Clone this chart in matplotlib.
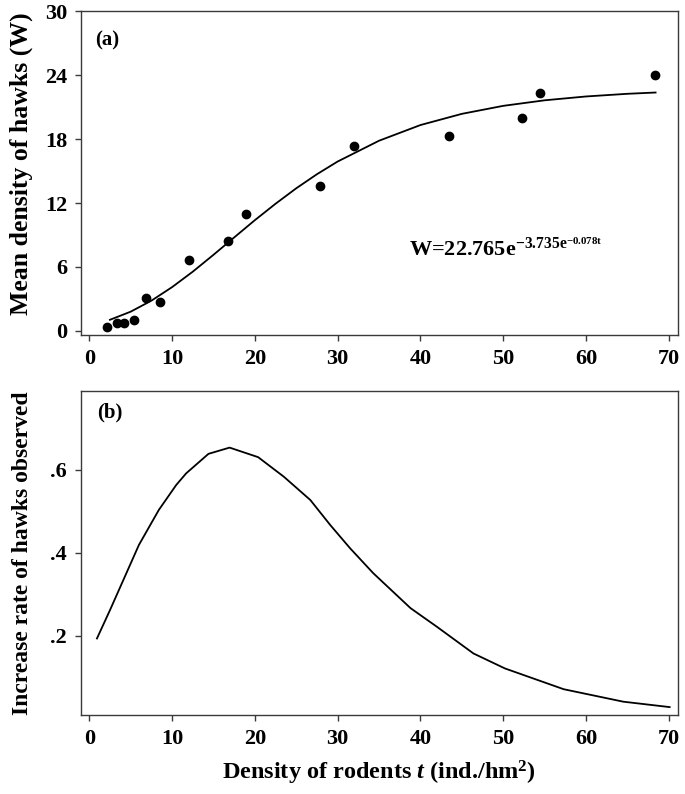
"""Hawk density vs rodent density: Gompertz fit (a) and its increase rate (b)."""
import matplotlib

matplotlib.use("Agg")
import matplotlib.pyplot as plt

# observed points, panel (a)
rodent_t = [2.1, 3.3, 4.2, 5.4, 6.9, 8.6, 12.0, 16.7, 18.9, 27.9, 32.0, 43.5, 52.3, 54.4, 68.3]
hawk_w = [0.4, 0.72, 0.72, 1.03, 3.06, 2.75, 6.65, 8.43, 11.0, 13.6, 17.3, 18.3, 19.96, 22.3, 23.96]

# fitted curve
fit_t = [2.5, 5, 7.5, 10, 12.5, 15, 17.5, 20, 22.5, 25, 27.5, 30, 35, 40, 45, 50, 55, 60, 65, 68.4]
fit_w = [1.05, 1.81, 2.84, 4.11, 5.56, 7.14, 8.77, 10.39, 11.93, 13.38, 14.70, 15.89,
         17.84, 19.31, 20.36, 21.11, 21.63, 21.99, 22.24, 22.36]

# increase rate curve, panel (b)
rate_t = [0.93, 2.5, 6.0, 8.4, 10.5, 11.7, 14.4, 16.95, 20.4, 23.5, 26.7, 29.1, 31.5,
          34.3, 38.8, 42.0, 46.4, 50.2, 57.3, 64.5, 70.1]
rate_v = [0.194, 0.262, 0.419, 0.503, 0.563, 0.591, 0.638, 0.653, 0.630, 0.583, 0.527,
          0.467, 0.411, 0.351, 0.267, 0.222, 0.158, 0.122, 0.072, 0.042, 0.029]

x_ticks = [0, 10, 20, 30, 40, 50, 60, 70]
w_ticks = [0, 6, 12, 18, 24, 30]
rate_ticks = [0.2, 0.4, 0.6]
rate_labels = [".2", ".4", ".6"]

plt.rcParams["font.family"] = ["Liberation Serif", "DejaVu Serif"]
plt.rcParams["font.weight"] = "bold"
plt.rcParams["mathtext.fontset"] = "custom"
plt.rcParams["mathtext.rm"] = "Liberation Serif:bold"
plt.rcParams["mathtext.it"] = "Liberation Serif:bold:italic"
plt.rcParams["mathtext.bf"] = "Liberation Serif:bold"

SPINE = "#3a3a3a"


def style_axes(ax):
    for sp in ax.spines.values():
        sp.set_color(SPINE)
        sp.set_linewidth(1.0)
    ax.tick_params(direction="out", length=4, width=1.0, color=SPINE,
                   labelsize=16, pad=6)
    for lab in ax.get_xticklabels() + ax.get_yticklabels():
        lab.set_fontweight("bold")


fig = plt.figure(figsize=(6.85, 7.94), dpi=100)
ax_a = fig.add_axes([0.1182, 0.5781, 0.8715, 0.408])
ax_b = fig.add_axes([0.1182, 0.0995, 0.8715, 0.408])

# (a)
ax_a.plot(rodent_t, hawk_w, "o", color="black", ms=6)
ax_a.plot(fit_t, fit_w, "-", color="black", lw=1.3)
ax_a.set_xlim(-1, 71.1)
ax_a.set_ylim(-0.375, 30)
ax_a.set_xticks(x_ticks)
ax_a.set_yticks(w_ticks)
ax_a.set_ylabel("Mean density of hawks (W)", fontsize=18.5, fontweight="bold")
ax_a.yaxis.set_label_coords(-0.08, 0.53)
ax_a.text(0.023, 0.91, "(a)", transform=ax_a.transAxes, fontsize=15, fontweight="bold",
          va="center", ha="left")
ax_a.text(38.6, 7.6, r"W=22.765e$^{\mathrm{-3.735e^{-0.078t}}}$", fontsize=16,
          fontweight="bold", va="center", ha="left")
style_axes(ax_a)

# (b)
ax_b.plot(rate_t, rate_v, "-", color="black", lw=1.3)
ax_b.set_xlim(-1, 71.1)
ax_b.set_ylim(0.01, 0.789)
ax_b.set_xticks(x_ticks)
ax_b.set_yticks(rate_ticks)
ax_b.set_yticklabels(rate_labels)
ax_b.set_ylabel("Increase rate of hawks observed", fontsize=17, fontweight="bold")
ax_b.yaxis.set_label_coords(-0.08, 0.5)
ax_b.set_xlabel(r"Density of rodents $\mathit{t}$ (ind./hm$^{2}$)", fontsize=17.5,
                fontweight="bold")
ax_b.xaxis.set_label_coords(0.5, -0.135)
ax_b.text(0.027, 0.935, "(b)", transform=ax_b.transAxes, fontsize=15, fontweight="bold",
          va="center", ha="left")
style_axes(ax_b)

fig.savefig("out.png", dpi=100)
plt.close(fig)
